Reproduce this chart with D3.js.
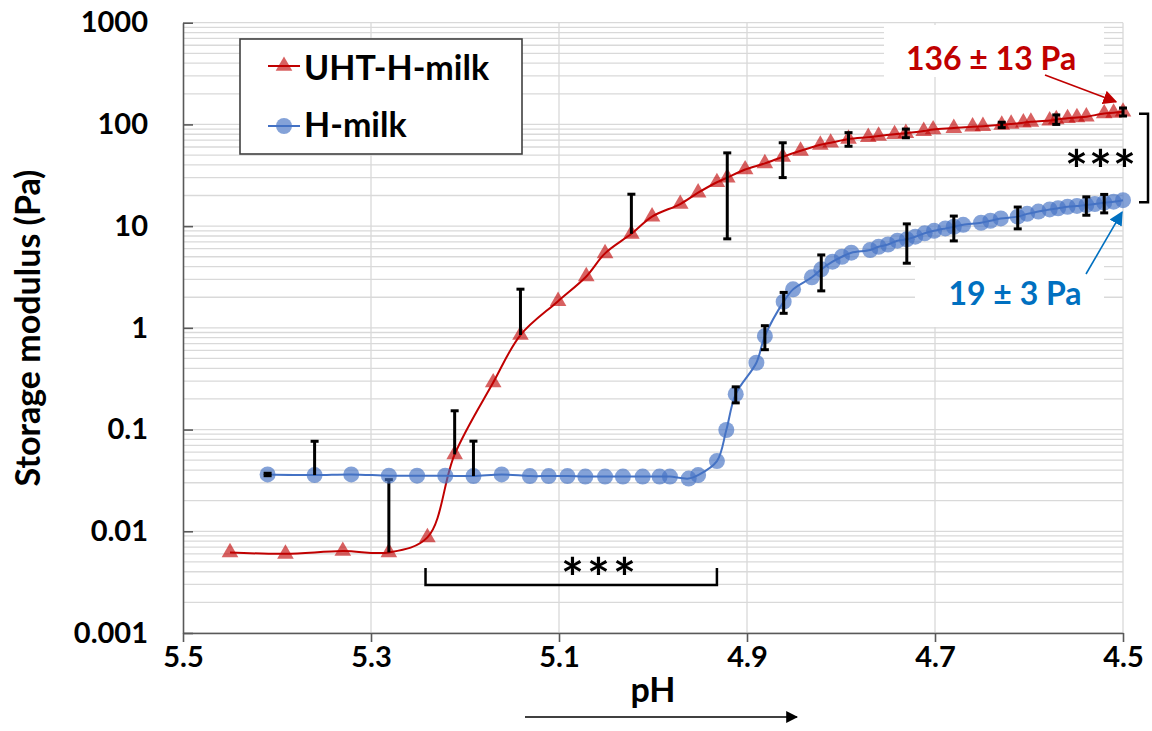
<!DOCTYPE html>
<html>
<head>
<meta charset="utf-8">
<script src="https://cdn.jsdelivr.net/npm/d3@7"></script>
<style>
  body { margin: 0; background: #fff; }
  svg { display: block; font-family: Lato, "Open Sans", sans-serif; font-weight: bold; }
</style>
</head>
<body>
<svg id="chart" width="1152" height="731"></svg>
<script>
// UHT-H-milk (red triangles)
const uhtPH = [5.450, 5.391, 5.330, 5.281, 5.240, 5.211, 5.170, 5.141, 5.101, 5.071,
  5.051, 5.023, 5.001, 4.971, 4.952, 4.932, 4.921, 4.902, 4.881, 4.862,
  4.843, 4.822, 4.811, 4.792, 4.771, 4.760, 4.743, 4.731, 4.712, 4.702,
  4.680, 4.660, 4.649, 4.629, 4.619, 4.606, 4.598, 4.578, 4.571, 4.559,
  4.549, 4.539, 4.520, 4.510, 4.500];
const uhtG = [0.0062, 0.0060, 0.0064, 0.0062, 0.0087, 0.057, 0.29, 0.85, 1.83, 3.2,
  5.4, 8.4, 12.4, 16.5, 21.3, 27, 30, 36, 41.4, 48,
  55, 63, 66, 72, 75, 77, 80, 82, 86, 89,
  92, 95, 96, 99, 101, 104, 106, 109, 112, 115,
  117, 119, 128, 130, 133];
const uhtErrPH = [5.281, 5.211, 5.141, 5.023, 4.921, 4.862, 4.792, 4.731, 4.629, 4.571, 4.500];
const uhtErrSD = [0.026, 0.096, 1.55, 12.2, 22.5, 18, 11, 8, 6, 12, 12];

// H-milk (blue circles)
const hPH = [5.410, 5.360, 5.321, 5.281, 5.251, 5.221, 5.191, 5.161, 5.131, 5.111,
  5.091, 5.072, 5.051, 5.032, 5.011, 4.993, 4.982, 4.962, 4.952, 4.932,
  4.922, 4.912, 4.890, 4.881, 4.861, 4.851, 4.831, 4.821, 4.809, 4.799,
  4.789, 4.769, 4.760, 4.750, 4.740, 4.730, 4.721, 4.711, 4.701, 4.689,
  4.680, 4.670, 4.651, 4.641, 4.630, 4.612, 4.602, 4.590, 4.578, 4.569,
  4.559, 4.549, 4.539, 4.530, 4.520, 4.510, 4.500];
const hG = [0.0362, 0.0357, 0.0362, 0.0352, 0.0352, 0.0352, 0.0349, 0.0362, 0.0349, 0.0349,
  0.0349, 0.0345, 0.0345, 0.0345, 0.0345, 0.0345, 0.0345, 0.0330, 0.0357, 0.049,
  0.099, 0.223, 0.454, 0.83, 1.81, 2.39, 3.14, 3.76, 4.47, 5.0,
  5.48, 5.82, 6.27, 6.6, 7.19, 7.42, 7.87, 8.5, 9.0, 9.5,
  9.86, 10.3, 10.8, 11.3, 11.9, 12.4, 13.2, 13.9, 14.6, 15.0,
  15.5, 15.8, 16.1, 16.5, 17.0, 17.4, 18.0];
const hErrPH = [5.410, 5.360, 5.191, 4.912, 4.881, 4.861, 4.821, 4.730, 4.680, 4.612, 4.539, 4.520];
const hErrSD = [0.001, 0.041, 0.042, 0.04, 0.22, 0.42, 1.45, 3.1, 2.7, 3, 3.3, 3.5];

const xTicks = [5.5, 5.3, 5.1, 4.9, 4.7, 4.5];
const yTicks = [0.001, 0.01, 0.1, 1, 10, 100, 1000];

const red = "#C00000", blue = "#4472C4", annBlue = "#0070C0";

const svg = d3.select("#chart");
const x = d3.scaleLinear().domain([5.5, 4.5]).range([183, 1123]);
const y = d3.scaleLog().domain([0.001, 1000]).range([633, 22.7]);

const defs = svg.append("defs");
function arrowHead(id, color, size) {
  defs.append("marker").attr("id", id)
    .attr("viewBox", "0 0 10 10").attr("refX", 9).attr("refY", 5)
    .attr("markerWidth", size).attr("markerHeight", size).attr("orient", "auto")
    .attr("markerUnits", "userSpaceOnUse")
    .append("path").attr("d", "M0,0 L10,5 L0,10 Z").attr("fill", color);
}

// grid
const minor = [];
for (let e = -3; e < 3; e++) for (let k = 1; k < 10; k++) minor.push(+(k * Math.pow(10, e)).toPrecision(3));
minor.push(1000);
const grid = svg.append("g").attr("stroke", "#d9d9d9").attr("stroke-width", 1.3);
grid.selectAll("line.h").data(minor).enter().append("line")
  .attr("x1", 183).attr("x2", 1123)
  .attr("y1", d => y(d)).attr("y2", d => y(d));
grid.selectAll("line.v").data(xTicks.slice(1)).enter().append("line")
  .attr("x1", d => x(d)).attr("x2", d => x(d))
  .attr("y1", y(1000)).attr("y2", y(0.001));

// white boxes behind the value labels
svg.append("rect").attr("x", 884).attr("y", 25).attr("width", 220).attr("height", 52).attr("fill", "#fff");
svg.append("rect").attr("x", 915).attr("y", 260).attr("width", 189).attr("height", 67).attr("fill", "#fff");

// axes
const yAxis = d3.axisLeft(y).tickValues(yTicks).tickFormat(d3.format("~g"))
  .tickSizeInner(-10).tickSizeOuter(0).tickPadding(35);
const gy = svg.append("g").attr("transform", "translate(183,0)").call(yAxis);
const xAxis = d3.axisBottom(x).tickValues(xTicks).tickFormat(d3.format(".1f"))
  .tickSizeInner(9).tickSizeOuter(0).tickPadding(4);
const gx = svg.append("g").attr("transform", "translate(0,633)").call(xAxis);
[gx, gy].forEach(g => {
  g.select(".domain").attr("stroke", "#595959").attr("stroke-width", 1.6);
  g.selectAll(".tick line").attr("stroke", "#595959").attr("stroke-width", 1.6);
  g.selectAll("text").attr("fill", "#000").style("font-size", "29px").style("font-family", "Lato, sans-serif").style("font-weight", "bold");
});

// series
const uht = uhtPH.map((p, i) => ({ ph: p, g: uhtG[i] }));
const hm = hPH.map((p, i) => ({ ph: p, g: hG[i] }));
const line = d3.line().x(d => x(d.ph)).y(d => y(d.g)).curve(d3.curveCatmullRom);
const tri = d3.symbol(d3.symbolTriangle, 120);

function errorBars(phs, sds, series) {
  const g = svg.append("g").attr("stroke", "#000").attr("stroke-width", 3);
  phs.forEach((p, i) => {
    const v = series.find(d => d.ph === p).g;
    const hi = v + sds[i], lo = v - sds[i];
    const cx = x(p);
    const yl = lo > 0 ? y(lo) : y(v);
    g.append("line").attr("x1", cx).attr("x2", cx).attr("y1", y(hi)).attr("y2", yl);
    g.append("line").attr("x1", cx - 4).attr("x2", cx + 4).attr("y1", y(hi)).attr("y2", y(hi));
    if (lo > 0) g.append("line").attr("x1", cx - 4).attr("x2", cx + 4).attr("y1", yl).attr("y2", yl);
  });
}

svg.append("path").datum(uht).attr("d", line).attr("fill", "none").attr("stroke", red).attr("stroke-width", 2);
svg.append("g").selectAll("path").data(uht).enter().append("path")
  .attr("d", tri).attr("transform", d => `translate(${x(d.ph)},${y(d.g)})`)
  .attr("fill", red).attr("fill-opacity", 0.62);
errorBars(uhtErrPH, uhtErrSD, uht);

svg.append("path").datum(hm).attr("d", line).attr("fill", "none").attr("stroke", blue).attr("stroke-width", 2);
svg.append("g").selectAll("circle").data(hm).enter().append("circle")
  .attr("cx", d => x(d.ph)).attr("cy", d => y(d.g)).attr("r", 8)
  .attr("fill", blue).attr("fill-opacity", 0.66);
errorBars(hErrPH, hErrSD, hm);

// legend
const lg = svg.append("g");
lg.append("rect").attr("x", 240).attr("y", 39).attr("width", 282).attr("height", 115)
  .attr("fill", "#fff").attr("stroke", "#404040").attr("stroke-width", 1.6);
lg.append("line").attr("x1", 268).attr("x2", 300).attr("y1", 66).attr("y2", 66).attr("stroke", red).attr("stroke-width", 2);
lg.append("path").attr("d", tri).attr("transform", "translate(284,66)").attr("fill", red).attr("fill-opacity", 0.62);
lg.append("line").attr("x1", 268).attr("x2", 300).attr("y1", 126).attr("y2", 126).attr("stroke", blue).attr("stroke-width", 2);
lg.append("circle").attr("cx", 284).attr("cy", 126).attr("r", 8).attr("fill", blue).attr("fill-opacity", 0.66);
lg.append("text").attr("x", 304).attr("y", 80).style("font-size", "34px").text("UHT-H-milk");
lg.append("text").attr("x", 304).attr("y", 137).style("font-size", "34px").text("H-milk");

// axis titles
svg.append("text").attr("transform", "translate(40,328) rotate(-90)").attr("text-anchor", "middle")
  .style("font-size", "34px").text("Storage modulus (Pa)");
svg.append("text").attr("x", x(5.0)).attr("y", 702).attr("text-anchor", "middle")
  .style("font-size", "34px").text("pH");
arrowHead("ahBlack", "#000", 12);
svg.append("line").attr("x1", 525).attr("x2", 797).attr("y1", 717).attr("y2", 717)
  .attr("stroke", "#000").attr("stroke-width", 1.6).attr("marker-end", "url(#ahBlack)");

// value labels with arrows
const lastU = uht[uht.length - 1], lastH = hm[hm.length - 1];
arrowHead("ahRed", red, 14);
arrowHead("ahBlue", annBlue, 14);
svg.append("text").attr("x", 991).attr("y", 70).attr("text-anchor", "middle")
  .attr("fill", red).style("font-size", "32px").text("136 ± 13 Pa");
svg.append("line").attr("x1", 1045).attr("y1", 75).attr("x2", x(lastU.ph) - 7).attr("y2", y(lastU.g) - 10)
  .attr("stroke", red).attr("stroke-width", 1.6).attr("marker-end", "url(#ahRed)");
svg.append("text").attr("x", 1015).attr("y", 305).attr("text-anchor", "middle")
  .attr("fill", annBlue).style("font-size", "32px").text("19 ± 3 Pa");
svg.append("line").attr("x1", 1086).attr("y1", 274).attr("x2", x(lastH.ph) - 1).attr("y2", y(lastH.g) + 12)
  .attr("stroke", annBlue).attr("stroke-width", 1.6).attr("marker-end", "url(#ahBlue)");

// significance brackets
const br = svg.append("g").attr("fill", "none").attr("stroke", "#000").attr("stroke-width", 2.5);
const bx1 = x(5.242), bx2 = x(4.932);
br.append("path").attr("d", `M${bx1},568 V585 H${bx2} V568`);
svg.append("text").attr("x", 600).attr("y", 597).attr("text-anchor", "middle")
  .style("font-size", "54px").attr("letter-spacing", 3).text("***");
const rx = 1148;
br.append("path").attr("d", `M1139,${y(lastU.g) + 2} H${rx} V${y(lastH.g) + 2} H1139`);
svg.append("text").attr("x", 1101).attr("y", 189).attr("text-anchor", "middle")
  .style("font-size", "54px").attr("letter-spacing", 1).text("***");
</script>
</body>
</html>
